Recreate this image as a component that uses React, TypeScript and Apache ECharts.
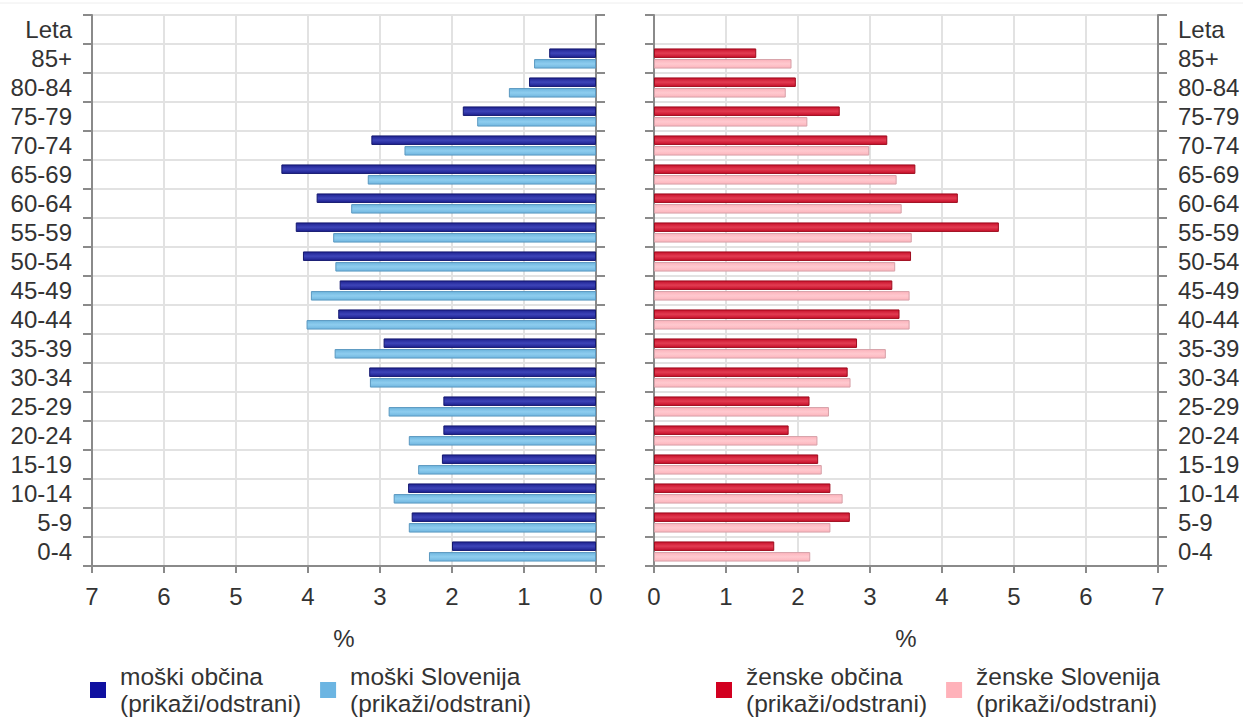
import React, { useEffect, useRef } from "react";
import * as echarts from "echarts";

const categories = ["0-4", "5-9", "10-14", "15-19", "20-24", "25-29", "30-34", "35-39", "40-44", "45-49", "50-54", "55-59", "60-64", "65-69", "70-74", "75-79", "80-84", "85+", "Leta"];

const maleMunicipality = [2.0, 2.56, 2.61, 2.14, 2.12, 2.12, 3.15, 2.95, 3.58, 3.56, 4.07, 4.17, 3.88, 4.37, 3.12, 1.85, 0.93, 0.65, null];
const maleSlovenia = [2.32, 2.6, 2.81, 2.47, 2.6, 2.88, 3.14, 3.63, 4.02, 3.96, 3.62, 3.65, 3.4, 3.17, 2.66, 1.65, 1.21, 0.86, null];
const femaleMunicipality = [1.67, 2.72, 2.45, 2.28, 1.87, 2.16, 2.69, 2.82, 3.41, 3.31, 3.57, 4.79, 4.22, 3.63, 3.24, 2.58, 1.97, 1.42, null];
const femaleSlovenia = [2.17, 2.45, 2.62, 2.33, 2.27, 2.43, 2.73, 3.22, 3.55, 3.55, 3.35, 3.58, 3.44, 3.37, 2.99, 2.13, 1.83, 1.91, null];

const xTicks = { min: 0, max: 7, interval: 1 };

const FONT = "'Liberation Sans', Arial, sans-serif";
const TXT = "#333333";
const AXIS = "#8a8a8a";
const GRID = "#e2e2e2";

function grad(edge: string, mid: string) {
  return new echarts.graphic.LinearGradient(0, 0, 0, 1, [
    { offset: 0, color: edge },
    { offset: 0.5, color: mid },
    { offset: 1, color: edge },
  ]);
}

export default function App() {
  const ref = useRef<HTMLDivElement>(null);
  useEffect(() => {
    if (!ref.current) return;
    const chart = echarts.init(ref.current, undefined, { renderer: "svg" });

    const catAxis = (gridIndex: number, position: string, labels: boolean, split: boolean, align: string) => ({
      type: "category",
      gridIndex,
      position,
      data: categories,
      boundaryGap: true,
      axisLine: { show: true, onZero: false, lineStyle: { color: AXIS, width: 2 } },
      axisTick: { show: true, interval: 0, length: 9, lineStyle: { color: AXIS, width: 2 } },
      axisLabel: {
        show: labels,
        interval: 0,
        margin: 20,
        fontSize: 24,
        fontFamily: FONT,
        color: TXT,
        align,
      },
      splitLine: { show: split, interval: 0, lineStyle: { color: GRID, width: 2 } },
    });

    const valAxis = (gridIndex: number, inverse: boolean) => ({
      type: "value",
      gridIndex,
      inverse,
      min: xTicks.min,
      max: xTicks.max,
      interval: xTicks.interval,
      name: "%",
      nameLocation: "middle",
      nameGap: 60,
      nameTextStyle: { fontSize: 24, fontFamily: FONT, color: TXT },
      axisLine: { show: true, onZero: false, lineStyle: { color: AXIS, width: 2 } },
      axisTick: { show: true, length: 7, lineStyle: { color: AXIS, width: 2 } },
      axisLabel: { margin: 18, fontSize: 24, fontFamily: FONT, color: TXT },
      splitLine: { show: true, lineStyle: { color: GRID, width: 2 } },
    });

    const barBase = {
      type: "bar",
      barWidth: 9.5,
      barGap: "12%",
    };

    const legendText = {
      fontSize: 24.5,
      lineHeight: 27,
      fontFamily: FONT,
      color: TXT,
      padding: [0, 0, 0, 9],
    };

    chart.setOption({
      animation: false,
      backgroundColor: "#ffffff",
      graphic: [
        { type: "line", shape: { x1: 0, y1: 3, x2: 1243, y2: 3 }, style: { stroke: "#eeeeee", lineWidth: 1 } },
      ],
      grid: [
        { left: 92, right: 1243 - 596, top: 15, bottom: 718 - 566, containLabel: false },
        { left: 654, right: 1243 - 1158, top: 15, bottom: 718 - 566, containLabel: false },
      ],
      xAxis: [valAxis(0, true), valAxis(1, false)],
      yAxis: [
        catAxis(0, "left", true, true, "right"),
        catAxis(0, "right", false, false, "left"),
        catAxis(1, "right", true, true, "left"),
        catAxis(1, "left", false, false, "right"),
      ],
      legend: [
        {
          left: 85,
          top: 658,
          itemWidth: 16,
          itemHeight: 16,
          itemGap: 19,
          icon: "rect",
          formatter: (n: string) => n + "\n(prikaži/odstrani)",
          textStyle: legendText,
          data: [
            { name: "moški občina", itemStyle: { color: "#0f10a0", borderWidth: 0 } },
            { name: "moški Slovenija", itemStyle: { color: "#6cb5e2", borderWidth: 0 } },
          ],
        },
        {
          left: 711,
          top: 658,
          itemWidth: 16,
          itemHeight: 16,
          itemGap: 19,
          icon: "rect",
          formatter: (n: string) => n + "\n(prikaži/odstrani)",
          textStyle: legendText,
          data: [
            { name: "ženske občina", itemStyle: { color: "#d20020", borderWidth: 0 } },
            { name: "ženske Slovenija", itemStyle: { color: "#ffb2ba", borderWidth: 0 } },
          ],
        },
      ],
      series: [
        {
          ...barBase,
          name: "moški občina",
          xAxisIndex: 0,
          yAxisIndex: 0,
          data: maleMunicipality,
          itemStyle: { color: grad("#1e2290", "#3d44b8"), borderColor: "#141870", borderWidth: 1 },
        },
        {
          ...barBase,
          name: "moški Slovenija",
          xAxisIndex: 0,
          yAxisIndex: 0,
          data: maleSlovenia,
          itemStyle: { color: grad("#70b6df", "#8ecdef"), borderColor: "#5a98c0", borderWidth: 1 },
        },
        {
          ...barBase,
          name: "ženske občina",
          xAxisIndex: 1,
          yAxisIndex: 2,
          data: femaleMunicipality,
          itemStyle: { color: grad("#c8102a", "#e23c52"), borderColor: "#9e0c1e", borderWidth: 1 },
        },
        {
          ...barBase,
          name: "ženske Slovenija",
          xAxisIndex: 1,
          yAxisIndex: 2,
          data: femaleSlovenia,
          itemStyle: { color: grad("#fcb4bc", "#ffc9cf"), borderColor: "#d6a0a8", borderWidth: 1 },
        },
      ],
    });

    return () => chart.dispose();
  }, []);

  return (
    <div
      ref={ref}
      style={{ position: "absolute", left: 0, top: 0, width: 1243, height: 718 }}
    />
  );
}
